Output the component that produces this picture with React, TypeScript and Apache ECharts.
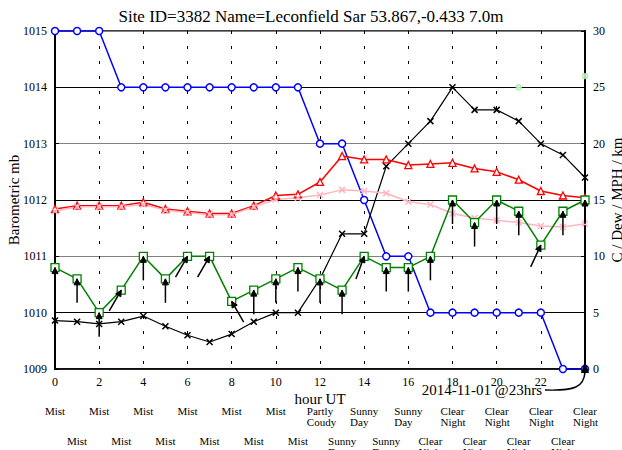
import React, { useEffect, useRef } from 'react';
import * as echarts from 'echarts';

const FONT = '"Liberation Serif", "Times New Roman", serif';

const titleText = 'Site ID=3382 Name=Leconfield Sar 53.867,-0.433 7.0m';
const stampText = '2014-11-01 @23hrs';

const hours = [0, 1, 2, 3, 4, 5, 6, 7, 8, 9, 10, 11, 12, 13, 14, 15, 16, 17, 18, 19, 20, 21, 22, 23, 24];
const pressure = [1015, 1015, 1015, 1014, 1014, 1014, 1014, 1014, 1014, 1014, 1014, 1014, 1013, 1013, 1012, 1011, 1011, 1010, 1010, 1010, 1010, 1010, 1010, 1009, 1009];
const visibility = [4.3, 4.2, 4.0, 4.2, 4.7, 3.8, 3.0, 2.4, 3.1, 4.2, 5, 5, 8, 12, 12, 18, 20, 22, 25, 23, 23, 22, 20, 19, 17];
const wind = [9, 8, 5, 7, 10, 8, 10, 10, 6, 7, 8, 9, 8, 7, 10, 9, 9, 10, 15, 13, 15, 14, 11, 14, 15];
const windTilt = [0, 0, 0, 30, 0, 0, 30, 30, -30, 0, 0, 0, 0, 0, 20, 0, 0, 0, 0, 0, 0, 0, 25, 0, 0];
const temp = [14.2, 14.5, 14.5, 14.5, 14.8, 14.2, 14.0, 13.8, 13.8, 14.5, 15.4, 15.5, 16.6, 18.9, 18.6, 18.6, 18.1, 18.2, 18.3, 17.8, 17.5, 16.8, 15.8, 15.4, 15.2];
const dew = [14.0, 14.4, 14.4, 14.4, 14.6, 14.1, 13.9, 13.7, 13.7, 14.4, 15.05, 15.2, 15.45, 15.9, 15.8, 15.6, 14.85, 14.6, 13.8, 13.4, 13.2, 13.0, 12.7, 12.6, 12.9];
const gustHours = [21, 24];
const gusts = [25, 26];

const weatherEvenHours = [0, 2, 4, 6, 8, 10, 12, 14, 16, 18, 20, 22, 24];
const weatherEven = ['Mist', 'Mist', 'Mist', 'Mist', 'Mist', 'Mist', 'Partly\nCoudy', 'Sunny\nDay', 'Sunny\nDay', 'Clear\nNight', 'Clear\nNight', 'Clear\nNight', 'Clear\nNight'];
const weatherOddHours = [1, 3, 5, 7, 9, 11, 13, 15, 17, 19, 21, 23];
const weatherOdd = ['Mist', 'Mist', 'Mist', 'Mist', 'Mist', 'Mist', 'Sunny\nDay', 'Sunny\nDay', 'Clear\nNight', 'Clear\nNight', 'Clear\nNight', 'Clear\nNight'];

const xMark = 'path://M0,0L10,10M10,0L0,10';

function measure(text: string, size: number) {
  const c = document.createElement('canvas').getContext('2d');
  if (!c) return text.length * size * 0.5;
  c.font = `${size}px "Liberation Serif"`;
  return c.measureText(text).width;
}

export default function App() {
  const ref = useRef<HTMLDivElement>(null);
  useEffect(() => {
    const chart = echarts.init(ref.current!, null, { renderer: 'svg' });
    const pts = (vals: number[]) => hours.map((h, i) => [h, vals[i]]);
    const option: any = {
      animation: false,
      backgroundColor: '#fff',
      title: {
        text: titleText,
        left: 'center',
        top: 3,
        textStyle: { fontFamily: FONT, fontSize: 17, fontWeight: 'normal', color: '#000' },
      },
      grid: {
        left: 55, right: 37, top: 31, bottom: 81, containLabel: false, outerBoundsMode: 'none',
        show: true, borderColor: '#000', borderWidth: 1.5, backgroundColor: 'transparent',
      },
      xAxis: {
        type: 'value',
        min: 0,
        max: 24,
        interval: 2,
        axisLine: { lineStyle: { color: '#000', width: 1.5 } },
        axisTick: { show: false },
        axisLabel: { color: '#000', fontFamily: FONT, fontSize: 12, margin: 7, formatter: (v: number) => (v === 24 ? '' : String(v)) },
        splitLine: { show: true, lineStyle: { color: '#000', type: [3, 12], width: 1 } },
        name: 'hour UT',
        nameLocation: 'middle',
        nameGap: 22,
        nameMoveOverlap: false,
        nameTextStyle: { fontFamily: FONT, fontSize: 15, color: '#000' },
      },
      yAxis: [
        {
          type: 'value',
          min: 1009,
          max: 1015,
          interval: 1,
          axisLine: { show: true, lineStyle: { color: '#000', width: 2 } },
          axisTick: { show: true, inside: true, length: 4, lineStyle: { color: '#000' } },
          axisLabel: { color: '#000', fontFamily: FONT, fontSize: 12, margin: 8, formatter: (v: number) => String(v) },
          splitLine: { show: true, lineStyle: { color: ['#808080', '#000'], width: 1 } },
          name: 'Barometric mb',
          nameLocation: 'middle',
          nameGap: 34,
          nameMoveOverlap: false,
          nameTextStyle: { fontFamily: FONT, fontSize: 15, color: '#000' },
        },
        {
          type: 'value',
          min: 0,
          max: 30,
          interval: 5,
          position: 'right',
          axisLine: { show: true, lineStyle: { color: '#000', width: 2 } },
          axisTick: { show: true, inside: true, length: 4, lineStyle: { color: '#000' } },
          axisLabel: { color: '#000', fontFamily: FONT, fontSize: 12, margin: 8, formatter: (v: number) => String(v) },
          splitLine: { show: false },
          name: 'C / Dew / MPH / km',
          nameLocation: 'middle',
          nameGap: 24,
          nameMoveOverlap: false,
          nameTextStyle: { fontFamily: FONT, fontSize: 15, color: '#000' },
        },
      ],
      series: [
        {
          type: 'line', yAxisIndex: 0, data: pts(pressure), symbol: 'circle', symbolSize: 7, showAllSymbol: true,
          lineStyle: { color: '#0000ff', width: 1.5 },
          itemStyle: { color: '#fff', borderColor: '#0000ff', borderWidth: 1.5 }, z: 3,
        },
        {
          type: 'line', yAxisIndex: 1, data: pts(visibility), symbol: xMark, symbolSize: 6, showAllSymbol: true,
          lineStyle: { color: '#000', width: 1.2 },
          itemStyle: { color: 'none', borderColor: '#000', borderWidth: 1.5 }, z: 3,
        },
        {
          type: 'line', yAxisIndex: 1, data: pts(temp), symbol: 'triangle', symbolSize: 7, showAllSymbol: true,
          lineStyle: { color: '#ff0000', width: 1.5 },
          itemStyle: { color: '#fff', borderColor: '#ff0000', borderWidth: 1.3 }, z: 3,
        },
        {
          type: 'line', yAxisIndex: 1, data: pts(dew), symbol: xMark, symbolSize: 6, showAllSymbol: true,
          lineStyle: { color: '#ffb6c1', width: 1.5 },
          itemStyle: { color: 'none', borderColor: '#ffb6c1', borderWidth: 1.5 }, z: 3,
        },
        {
          type: 'line', yAxisIndex: 1, data: pts(wind), symbol: 'rect', symbolSize: 8, showAllSymbol: true,
          lineStyle: { color: '#008000', width: 1.5 },
          itemStyle: { color: '#fff', borderColor: '#008000', borderWidth: 1.3 }, z: 3,
        },
        {
          type: 'scatter', yAxisIndex: 1, data: gustHours.map((h, i) => [h, gusts[i]]), symbol: 'circle', symbolSize: 5,
          itemStyle: { color: '#fff', borderColor: '#90ee90', borderWidth: 1.5 }, z: 3,
        },
        {
          type: 'custom', yAxisIndex: 1, z: 4,
          data: hours.map((h, i) => [h, wind[i], windTilt[i]]),
          renderItem: (params: any, api: any) => {
            const p = api.coord([api.value(0), api.value(1)]);
            const a = (api.value(2) * Math.PI) / 180;
            const dx = Math.sin(a);
            const dy = -Math.cos(a);
            const L = 24;
            const H = 6;
            const W = 3;
            const tail = [p[0] - L * dx, p[1] - L * dy];
            const base = [p[0] - H * dx, p[1] - H * dy];
            const nx = -dy;
            const ny = dx;
            return {
              type: 'group',
              children: [
                { type: 'line', shape: { x1: tail[0], y1: tail[1], x2: p[0], y2: p[1] }, style: { stroke: '#000', lineWidth: 1.5 } },
                {
                  type: 'polygon',
                  shape: { points: [[p[0], p[1]], [base[0] + W * nx, base[1] + W * ny], [base[0] - W * nx, base[1] - W * ny]] },
                  style: { fill: '#000', stroke: '#000', lineWidth: 1 },
                },
              ],
            };
          },
        },
      ],
    };
    chart.setOption(option);

    const graphics: any[] = [];
    const rowY1 = 405;
    const rowY2 = 435;
    const addRow = (hs: number[], labels: string[], y: number) => {
      hs.forEach((h, i) => {
        const px = chart.convertToPixel({ xAxisIndex: 0 }, h) as number;
        const first = labels[i].split('\n')[0];
        const w = measure(first, 11);
        graphics.push({
          type: 'text', x: px - w / 2, y,
          style: { text: labels[i], font: `11px ${FONT}`, fill: '#000', textAlign: 'left', textVerticalAlign: 'top', lineHeight: 11 },
        });
      });
    };
    addRow(weatherEvenHours, weatherEven, rowY1);
    addRow(weatherOddHours, weatherOdd, rowY2);

    const anchor = chart.convertToPixel({ xAxisIndex: 0, yAxisIndex: 1 }, [24, 0]) as number[];
    graphics.push({
      type: 'text', x: anchor[0] - 43, y: anchor[1] + 21,
      style: { text: stampText, font: `15px ${FONT}`, fill: '#000', textAlign: 'right', textVerticalAlign: 'middle' },
    });
    graphics.push({
      type: 'bezierCurve',
      shape: { x1: anchor[0] - 40, y1: anchor[1] + 21, cpx1: anchor[0] - 10, cpy1: anchor[1] + 22, cpx2: anchor[0] - 1, cpy2: anchor[1] + 18, x2: anchor[0], y2: anchor[1] + 3 },
      style: { stroke: '#000', lineWidth: 1.5, fill: 'none' },
    });
    graphics.push({
      type: 'polygon',
      shape: { points: [[anchor[0], anchor[1] - 8], [anchor[0] - 4, anchor[1] + 4], [anchor[0] + 4, anchor[1] + 4]] },
      style: { fill: '#000' },
      z: 10,
    });
    chart.setOption({ graphic: graphics });

    return () => chart.dispose();
  }, []);
  return <div ref={ref} style={{ position: 'fixed', left: 0, top: 0, width: 622, height: 450 }} />;
}
